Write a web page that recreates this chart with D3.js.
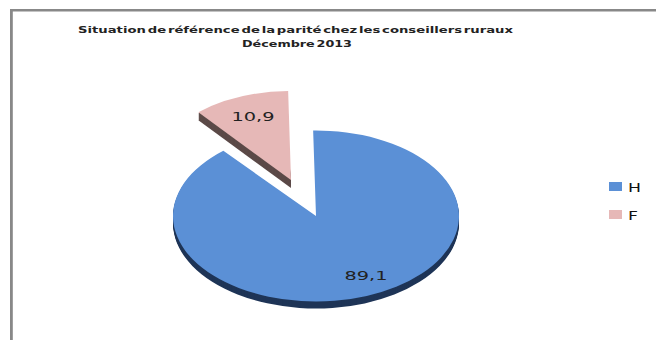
<!DOCTYPE html>
<html>
<head>
<meta charset="utf-8">
<script src="https://cdn.jsdelivr.net/npm/d3@7"></script>
<style>
  html, body { margin: 0; padding: 0; background: #fff; }
  svg { display: block; }
  text { font-family: "DejaVu Sans", sans-serif; fill: #111; }
</style>
</head>
<body>
<svg id="chart" width="656" height="340"></svg>
<script>
const categories = ["H", "F"];
const shares = [89.1, 10.9];
const shareLabels = ["89,1", "10,9"];
const titleLines = ["Situation de référence de la parité chez  les conseillers ruraux", "Décembre 2013"];

const topColors = ["#5b90d6", "#e6b8b7"];
const wallColors = ["#1f3557", "#5c4a48"];

const width = 656, height = 340;
const svg = d3.select("#chart");

// Frame: only the top and left rules are visible
svg.append("rect").attr("x", 10).attr("y", 9).attr("width", width - 10).attr("height", 2.5).attr("fill", "#888");
svg.append("rect").attr("x", 10).attr("y", 9).attr("width", 2.8).attr("height", height - 9).attr("fill", "#888");

// Title, stretched wide like the low-resolution chart export
const titleSpecs = [
  { x: 78, y: 33, len: 435 },
  { x: 242, y: 47, len: 110 }
];
svg.selectAll("text.title").data(titleLines).join("text")
  .attr("class", "title")
  .attr("x", (d, i) => titleSpecs[i].x)
  .attr("y", (d, i) => titleSpecs[i].y)
  .attr("textLength", (d, i) => titleSpecs[i].len)
  .attr("lengthAdjust", "spacingAndGlyphs")
  .attr("word-spacing", -2)
  .attr("font-size", 9.5)
  .attr("font-weight", 600)
  .style("fill", "#222")
  .text(d => d);

// Tilted pie: each slice is an ellipse with its own exploded centre.
// trim shortens the wall at the slice's upright edge so it stays hidden there.
const pie = d3.pie().sort(null).startAngle(-0.02).endAngle(2 * Math.PI - 0.02);
const slices = pie(shares);
const radius = 143;
const layouts = [
  { cx: 316, cy: 216, ry: 85.5, depth: 7, label: [366, 280], trim: [0.03, 0] },
  { cx: 291, cy: 180, ry: 89, depth: 8, label: [253, 121], trim: [0, 0.03] }
];
const arc = d3.arc().innerRadius(0).outerRadius(radius);

const sliceGroups = svg.selectAll("g.slice").data(slices).join("g").attr("class", "slice");

sliceGroups.each(function (d, i) {
  const g = d3.select(this);
  const l = layouts[i];
  const sy = l.ry / radius;
  const wallShape = arc({ startAngle: d.startAngle + l.trim[0], endAngle: d.endAngle - l.trim[1] });
  // Side wall: stacked copies of the slice shifted downward
  g.selectAll("path.wall").data(d3.range(l.depth, 0, -1)).join("path")
    .attr("class", "wall")
    .attr("d", wallShape)
    .attr("transform", k => `translate(${l.cx},${l.cy + k}) scale(1,${sy})`)
    .attr("fill", wallColors[i]);
  // Top surface
  g.append("path")
    .attr("d", arc(d))
    .attr("transform", `translate(${l.cx},${l.cy}) scale(1,${sy})`)
    .attr("fill", topColors[i]);
});

// Value labels on the slices
svg.selectAll("text.value").data(shareLabels).join("text")
  .attr("class", "value")
  .attr("x", (d, i) => layouts[i].label[0])
  .attr("y", (d, i) => layouts[i].label[1])
  .attr("text-anchor", "middle")
  .attr("font-size", 12)
  .attr("textLength", 43)
  .attr("lengthAdjust", "spacingAndGlyphs")
  .style("fill", "#222")
  .text(d => d);

// Legend
const legendY = d3.scalePoint().domain(categories).range([186.5, 214.5]);
const legendTextWidth = [13, 10];
const legend = svg.selectAll("g.legend").data(categories).join("g")
  .attr("class", "legend")
  .attr("transform", d => `translate(609,${legendY(d)})`);
legend.append("rect")
  .attr("x", 0).attr("y", -4.5).attr("width", 13).attr("height", 9)
  .attr("fill", (d, i) => topColors[i]);
legend.append("text")
  .attr("x", 19).attr("y", 5)
  .attr("font-size", 13)
  .attr("textLength", (d, i) => legendTextWidth[i])
  .attr("lengthAdjust", "spacingAndGlyphs")
  .text(d => d);
</script>
</body>
</html>
